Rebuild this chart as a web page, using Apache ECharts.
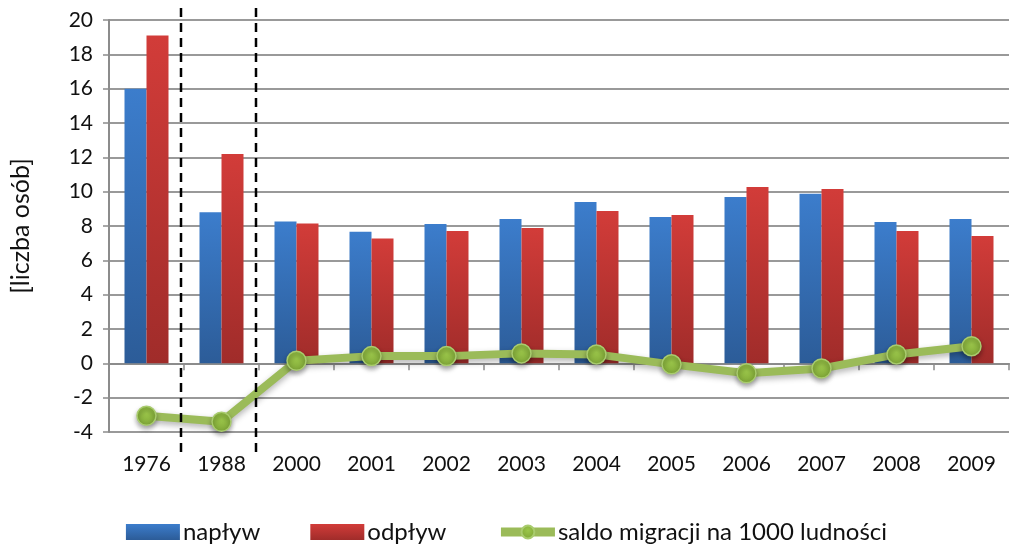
<!DOCTYPE html>
<html><head><meta charset="utf-8">
<script src="https://cdn.jsdelivr.net/npm/echarts@6/dist/echarts.min.js"></script>
<style>html,body{margin:0;padding:0;background:#fff}#c{width:1013px;height:547px}</style>
</head><body><div id="c"></div>
<script>
var categories = ['1976','1988','2000','2001','2002','2003','2004','2005','2006','2007','2008','2009'];
var naplyw = [16.0, 8.8, 8.26, 7.67, 8.12, 8.41, 9.40, 8.52, 9.69, 9.88, 8.23, 8.41];
var odplyw = [19.1, 12.2, 8.14, 7.27, 7.71, 7.88, 8.87, 8.64, 10.27, 10.16, 7.71, 7.42];
var saldo = [-3.05, -3.4, 0.15, 0.42, 0.42, 0.58, 0.52, -0.06, -0.58, -0.3, 0.52, 1.0];
var dividersAfter = ['1976', '1988'];
var yTicks = {min: -4, max: 20, interval: 2};

var FONT = 'Lato, "Liberation Sans", sans-serif';
var chart = echarts.init(document.getElementById('c'), null, {renderer: 'canvas'});

function grad(top, bottom) {
  return new echarts.graphic.LinearGradient(0, 0, 0, 1, [{offset: 0, color: top}, {offset: 1, color: bottom}]);
}

chart.setOption({
  animation: false,
  textStyle: {fontFamily: FONT},
  grid: {left: 108, right: 4, top: 20, bottom: 115, containLabel: false},
  legend: {
    bottom: -2, left: 'center', itemWidth: 54, itemHeight: 16, itemGap: 50,
    textStyle: {fontSize: 24, color: '#111', fontFamily: FONT, padding: [0, 0, 0, -2]},
    data: [
      {name: 'napływ', icon: 'rect'},
      {name: 'odpływ', icon: 'rect'},
      {name: 'saldo migracji na 1000 ludności', lineStyle: {width: 9, color: '#9bbb59'}}
    ]
  },
  xAxis: [{
    type: 'category', data: categories,
    axisLine: {onZero: true, lineStyle: {color: '#8c8c8c', width: 2}},
    axisTick: {show: true, length: 7, lineStyle: {color: '#8c8c8c', width: 1.5}},
    axisLabel: {show: false}
  }, {
    type: 'category', data: categories, position: 'bottom',
    axisLine: {show: false, onZero: false}, axisTick: {show: false},
    axisLabel: {show: true, fontSize: 21, color: '#111', margin: 22, fontFamily: FONT}
  }],
  yAxis: {
    type: 'value', min: yTicks.min, max: yTicks.max, interval: yTicks.interval,
    name: '[liczba osób]', nameLocation: 'middle', nameGap: 76, nameRotate: 90,
    nameTextStyle: {fontSize: 25, color: '#111', fontFamily: FONT},
    axisLine: {show: true, lineStyle: {color: '#8c8c8c', width: 2}},
    axisTick: {show: true, length: 6, lineStyle: {color: '#8c8c8c', width: 1.5}},
    axisLabel: {fontSize: 21, color: '#111', margin: 16, fontFamily: FONT},
    splitLine: {lineStyle: {color: '#999', width: 2}}
  },
  series: [{
    name: 'napływ', type: 'bar', data: naplyw, barWidth: 22, barGap: '0%',
    itemStyle: {color: grad('#3c7dcc', '#2c5c98'), shadowBlur: 4, shadowColor: 'rgba(0,0,0,0.3)', shadowOffsetX: 2, shadowOffsetY: 1}
  }, {
    name: 'odpływ', type: 'bar', data: odplyw, barWidth: 22, barGap: '0%',
    itemStyle: {color: grad('#d23c39', '#a02c2a'), shadowBlur: 4, shadowColor: 'rgba(0,0,0,0.3)', shadowOffsetX: 2, shadowOffsetY: 1}
  }, {
    name: 'saldo migracji na 1000 ludności', type: 'line', data: saldo, z: 5,
    symbol: 'circle', symbolSize: 19,
    lineStyle: {color: '#9bbb59', width: 8, shadowBlur: 6, shadowColor: 'rgba(0,0,0,0.3)', shadowOffsetY: 3},
    itemStyle: {color: new echarts.graphic.RadialGradient(0.5, 0.4, 0.6, [{offset: 0, color: '#9bc64a'}, {offset: 1, color: '#7ea536'}]),
      borderColor: '#a9cc6e', borderWidth: 1.5, shadowBlur: 5, shadowColor: 'rgba(0,0,0,0.35)', shadowOffsetY: 3}
  }]
});

var lines = dividersAfter.map(function (cat) {
  var i = categories.indexOf(cat);
  var x = (chart.convertToPixel({xAxisIndex: 0}, categories[i]) + chart.convertToPixel({xAxisIndex: 0}, categories[i + 1])) / 2 - 3;
  return {
    type: 'line', z: 10,
    shape: {x1: x, y1: 8, x2: x, y2: 452},
    style: {stroke: '#000', lineWidth: 2.5, lineDash: [9, 6]}
  };
});
chart.setOption({graphic: lines});
</script></body></html>
